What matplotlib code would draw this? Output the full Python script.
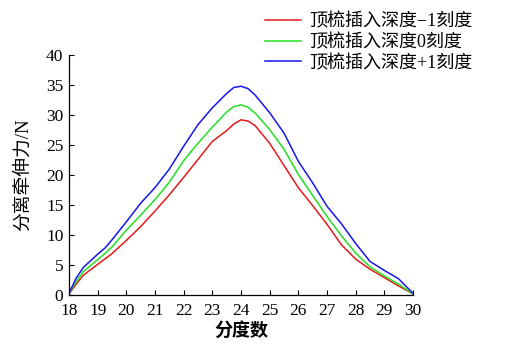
import matplotlib
matplotlib.use("Agg")
import matplotlib.pyplot as plt

plt.rcParams['font.family'] = ['Liberation Serif', 'Noto Sans CJK SC']

x = [18, 18.25, 18.5, 19, 19.25, 19.5, 20, 20.5, 21, 21.5, 22, 22.5, 23, 23.5, 23.75,
     24, 24.25, 24.5, 25, 25.5, 26, 26.5, 27, 27.5, 28, 28.5, 29, 29.5, 30]

red = [0.2, 1.8, 3.3, 5.1, 6.0, 6.9, 9.1, 11.4, 14.0, 16.7, 19.6, 22.6, 25.6, 27.4, 28.5,
       29.2, 29.0, 28.2, 25.3, 21.6, 17.9, 14.9, 11.8, 8.4, 6.0, 4.3, 2.9, 1.5, 0.2]
green = [0.3, 2.2, 3.9, 5.9, 6.9, 8.0, 10.8, 13.3, 15.9, 18.8, 22.4, 25.3, 28.0, 30.5, 31.4,
         31.7, 31.3, 30.3, 27.6, 24.3, 20.1, 16.6, 13.1, 9.9, 7.0, 4.7, 3.2, 1.8, 0.2]
blue = [0.3, 2.8, 4.6, 6.8, 7.8, 9.2, 12.2, 15.3, 17.9, 21.0, 24.8, 28.4, 31.2, 33.6, 34.6,
        34.8, 34.4, 33.3, 30.4, 27.0, 22.3, 18.7, 14.8, 11.9, 8.6, 5.6, 4.1, 2.7, 0.3]

labels = ['顶梳插入深度−1刻度', '顶梳插入深度0刻度', '顶梳插入深度+1刻度']
colors = ['#e41a1c', '#22e022', '#1515f0']
xticks = list(range(18, 31))
yticks = list(range(0, 41, 5))

fig = plt.figure(figsize=(5.13, 3.53), dpi=100)
ax = fig.add_axes([0.1345, 0.1643, 0.6705, 0.6797])

for s, lab, c in zip([red, green, blue], labels, colors):
    ax.plot(x, s, color=c, lw=1.1, label=lab, solid_joinstyle='round')

ax.set_xlim(18, 30)
ax.set_ylim(0, 40)
ax.set_xticks(xticks)
ax.set_yticks(yticks)
ax.tick_params(direction='in', length=3.5, width=0.8, labelsize=12.5)
ax.tick_params(axis='x', pad=6)
ax.tick_params(axis='y', pad=4)
for sp in ['top', 'right']:
    ax.spines[sp].set_visible(False)
for sp in ['left', 'bottom']:
    ax.spines[sp].set_linewidth(0.9)

ax.set_xlabel('分度数', fontsize=13, fontweight='bold', labelpad=2)
ax.set_ylabel('分离牵伸力/N', fontsize=13.5, labelpad=10)

fig.legend(loc='upper right', bbox_to_anchor=(0.935, 0.985), frameon=False,
           fontsize=13, handlelength=2.0, handletextpad=0.45, labelspacing=0.2,
           borderaxespad=0)

fig.savefig('out.png', dpi=100)
